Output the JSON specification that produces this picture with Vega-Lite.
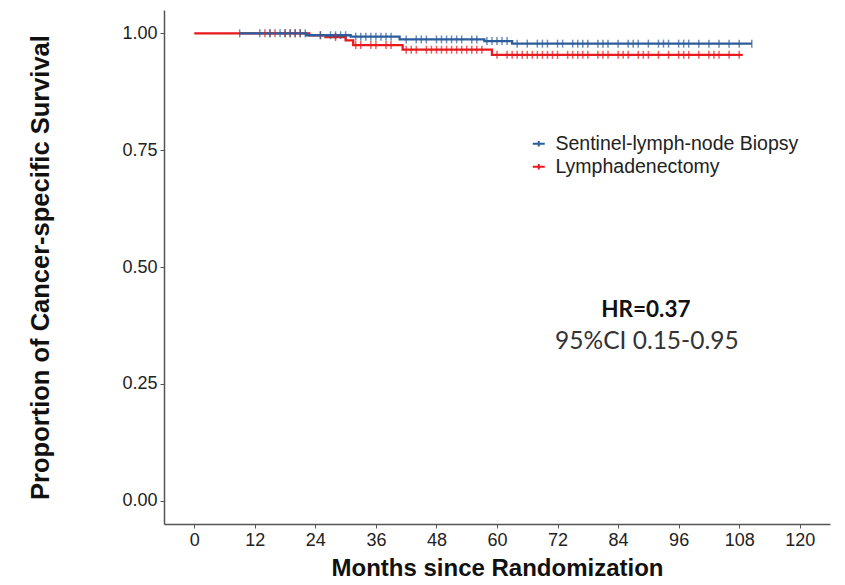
{
  "$schema": "https://vega.github.io/schema/vega-lite/v6.json",
  "width": 666,
  "height": 514,
  "autosize": {"type": "none"},
  "padding": {"left": 164, "top": 10, "right": 15, "bottom": 61},
  "background": "white",
  "config": {
    "font": "Liberation Sans",
    "view": {"stroke": null},
    "axis": {
      "grid": false,
      "domainColor": "#555555",
      "domainWidth": 1.5,
      "tickColor": "#555555",
      "tickSize": 4,
      "tickWidth": 1,
      "labelFontSize": 18,
      "labelColor": "#222222",
      "labelPadding": 3,
      "titleFontSize": 24,
      "titleFontWeight": "bold",
      "titleColor": "#111111"
    }
  },
  "datasets": {
    "curves": [
      {"group": "Sentinel-lymph-node Biopsy", "month": 9, "surv": 1.0},
      {"group": "Sentinel-lymph-node Biopsy", "month": 22.2, "surv": 0.996},
      {"group": "Sentinel-lymph-node Biopsy", "month": 31, "surv": 0.993},
      {"group": "Sentinel-lymph-node Biopsy", "month": 40.7, "surv": 0.987},
      {"group": "Sentinel-lymph-node Biopsy", "month": 57.5, "surv": 0.9835},
      {"group": "Sentinel-lymph-node Biopsy", "month": 63, "surv": 0.978},
      {"group": "Sentinel-lymph-node Biopsy", "month": 110.5, "surv": 0.978},
      {"group": "Lymphadenectomy", "month": 0, "surv": 1.0},
      {"group": "Lymphadenectomy", "month": 22.8, "surv": 0.996},
      {"group": "Lymphadenectomy", "month": 26, "surv": 0.992},
      {"group": "Lymphadenectomy", "month": 30, "surv": 0.985},
      {"group": "Lymphadenectomy", "month": 31.5, "surv": 0.975},
      {"group": "Lymphadenectomy", "month": 41.3, "surv": 0.965},
      {"group": "Lymphadenectomy", "month": 59, "surv": 0.954},
      {"group": "Lymphadenectomy", "month": 108.7, "surv": 0.954}
    ],
    "censor": [
      {"group": "Sentinel-lymph-node Biopsy", "month": 9, "surv": 1.0},
      {"group": "Sentinel-lymph-node Biopsy", "month": 13, "surv": 1.0},
      {"group": "Sentinel-lymph-node Biopsy", "month": 15, "surv": 1.0},
      {"group": "Sentinel-lymph-node Biopsy", "month": 17, "surv": 1.0},
      {"group": "Sentinel-lymph-node Biopsy", "month": 18, "surv": 1.0},
      {"group": "Sentinel-lymph-node Biopsy", "month": 19, "surv": 1.0},
      {"group": "Sentinel-lymph-node Biopsy", "month": 20, "surv": 1.0},
      {"group": "Sentinel-lymph-node Biopsy", "month": 21, "surv": 1.0},
      {"group": "Sentinel-lymph-node Biopsy", "month": 22, "surv": 1.0},
      {"group": "Sentinel-lymph-node Biopsy", "month": 25, "surv": 0.996},
      {"group": "Sentinel-lymph-node Biopsy", "month": 27, "surv": 0.996},
      {"group": "Sentinel-lymph-node Biopsy", "month": 28, "surv": 0.996},
      {"group": "Sentinel-lymph-node Biopsy", "month": 29, "surv": 0.996},
      {"group": "Sentinel-lymph-node Biopsy", "month": 30, "surv": 0.996},
      {"group": "Sentinel-lymph-node Biopsy", "month": 32, "surv": 0.993},
      {"group": "Sentinel-lymph-node Biopsy", "month": 33, "surv": 0.993},
      {"group": "Sentinel-lymph-node Biopsy", "month": 34, "surv": 0.993},
      {"group": "Sentinel-lymph-node Biopsy", "month": 35, "surv": 0.993},
      {"group": "Sentinel-lymph-node Biopsy", "month": 36, "surv": 0.993},
      {"group": "Sentinel-lymph-node Biopsy", "month": 37, "surv": 0.993},
      {"group": "Sentinel-lymph-node Biopsy", "month": 38, "surv": 0.993},
      {"group": "Sentinel-lymph-node Biopsy", "month": 39, "surv": 0.993},
      {"group": "Sentinel-lymph-node Biopsy", "month": 42, "surv": 0.987},
      {"group": "Sentinel-lymph-node Biopsy", "month": 44, "surv": 0.987},
      {"group": "Sentinel-lymph-node Biopsy", "month": 45, "surv": 0.987},
      {"group": "Sentinel-lymph-node Biopsy", "month": 46, "surv": 0.987},
      {"group": "Sentinel-lymph-node Biopsy", "month": 48, "surv": 0.987},
      {"group": "Sentinel-lymph-node Biopsy", "month": 49, "surv": 0.987},
      {"group": "Sentinel-lymph-node Biopsy", "month": 50, "surv": 0.987},
      {"group": "Sentinel-lymph-node Biopsy", "month": 51, "surv": 0.987},
      {"group": "Sentinel-lymph-node Biopsy", "month": 52, "surv": 0.987},
      {"group": "Sentinel-lymph-node Biopsy", "month": 53, "surv": 0.987},
      {"group": "Sentinel-lymph-node Biopsy", "month": 55, "surv": 0.987},
      {"group": "Sentinel-lymph-node Biopsy", "month": 56, "surv": 0.987},
      {"group": "Sentinel-lymph-node Biopsy", "month": 58, "surv": 0.9835},
      {"group": "Sentinel-lymph-node Biopsy", "month": 59, "surv": 0.9835},
      {"group": "Sentinel-lymph-node Biopsy", "month": 60, "surv": 0.9835},
      {"group": "Sentinel-lymph-node Biopsy", "month": 61, "surv": 0.9835},
      {"group": "Sentinel-lymph-node Biopsy", "month": 62, "surv": 0.9835},
      {"group": "Sentinel-lymph-node Biopsy", "month": 64, "surv": 0.978},
      {"group": "Sentinel-lymph-node Biopsy", "month": 66, "surv": 0.978},
      {"group": "Sentinel-lymph-node Biopsy", "month": 68, "surv": 0.978},
      {"group": "Sentinel-lymph-node Biopsy", "month": 69, "surv": 0.978},
      {"group": "Sentinel-lymph-node Biopsy", "month": 70, "surv": 0.978},
      {"group": "Sentinel-lymph-node Biopsy", "month": 72, "surv": 0.978},
      {"group": "Sentinel-lymph-node Biopsy", "month": 73, "surv": 0.978},
      {"group": "Sentinel-lymph-node Biopsy", "month": 75, "surv": 0.978},
      {"group": "Sentinel-lymph-node Biopsy", "month": 76, "surv": 0.978},
      {"group": "Sentinel-lymph-node Biopsy", "month": 77, "surv": 0.978},
      {"group": "Sentinel-lymph-node Biopsy", "month": 78, "surv": 0.978},
      {"group": "Sentinel-lymph-node Biopsy", "month": 80, "surv": 0.978},
      {"group": "Sentinel-lymph-node Biopsy", "month": 81, "surv": 0.978},
      {"group": "Sentinel-lymph-node Biopsy", "month": 82, "surv": 0.978},
      {"group": "Sentinel-lymph-node Biopsy", "month": 84, "surv": 0.978},
      {"group": "Sentinel-lymph-node Biopsy", "month": 86, "surv": 0.978},
      {"group": "Sentinel-lymph-node Biopsy", "month": 87, "surv": 0.978},
      {"group": "Sentinel-lymph-node Biopsy", "month": 88, "surv": 0.978},
      {"group": "Sentinel-lymph-node Biopsy", "month": 90, "surv": 0.978},
      {"group": "Sentinel-lymph-node Biopsy", "month": 92, "surv": 0.978},
      {"group": "Sentinel-lymph-node Biopsy", "month": 93, "surv": 0.978},
      {"group": "Sentinel-lymph-node Biopsy", "month": 94, "surv": 0.978},
      {"group": "Sentinel-lymph-node Biopsy", "month": 96, "surv": 0.978},
      {"group": "Sentinel-lymph-node Biopsy", "month": 97, "surv": 0.978},
      {"group": "Sentinel-lymph-node Biopsy", "month": 98, "surv": 0.978},
      {"group": "Sentinel-lymph-node Biopsy", "month": 100, "surv": 0.978},
      {"group": "Sentinel-lymph-node Biopsy", "month": 102, "surv": 0.978},
      {"group": "Sentinel-lymph-node Biopsy", "month": 104, "surv": 0.978},
      {"group": "Sentinel-lymph-node Biopsy", "month": 106, "surv": 0.978},
      {"group": "Sentinel-lymph-node Biopsy", "month": 108, "surv": 0.978},
      {"group": "Sentinel-lymph-node Biopsy", "month": 110.5, "surv": 0.978},
      {"group": "Lymphadenectomy", "month": 14, "surv": 1.0},
      {"group": "Lymphadenectomy", "month": 15, "surv": 1.0},
      {"group": "Lymphadenectomy", "month": 16, "surv": 1.0},
      {"group": "Lymphadenectomy", "month": 18, "surv": 1.0},
      {"group": "Lymphadenectomy", "month": 19, "surv": 1.0},
      {"group": "Lymphadenectomy", "month": 20, "surv": 1.0},
      {"group": "Lymphadenectomy", "month": 21, "surv": 1.0},
      {"group": "Lymphadenectomy", "month": 25, "surv": 0.996},
      {"group": "Lymphadenectomy", "month": 28, "surv": 0.992},
      {"group": "Lymphadenectomy", "month": 32, "surv": 0.975},
      {"group": "Lymphadenectomy", "month": 33, "surv": 0.975},
      {"group": "Lymphadenectomy", "month": 35, "surv": 0.975},
      {"group": "Lymphadenectomy", "month": 36, "surv": 0.975},
      {"group": "Lymphadenectomy", "month": 38, "surv": 0.975},
      {"group": "Lymphadenectomy", "month": 39, "surv": 0.975},
      {"group": "Lymphadenectomy", "month": 42, "surv": 0.965},
      {"group": "Lymphadenectomy", "month": 43, "surv": 0.965},
      {"group": "Lymphadenectomy", "month": 44, "surv": 0.965},
      {"group": "Lymphadenectomy", "month": 46, "surv": 0.965},
      {"group": "Lymphadenectomy", "month": 47, "surv": 0.965},
      {"group": "Lymphadenectomy", "month": 48, "surv": 0.965},
      {"group": "Lymphadenectomy", "month": 49, "surv": 0.965},
      {"group": "Lymphadenectomy", "month": 50, "surv": 0.965},
      {"group": "Lymphadenectomy", "month": 51, "surv": 0.965},
      {"group": "Lymphadenectomy", "month": 52, "surv": 0.965},
      {"group": "Lymphadenectomy", "month": 53, "surv": 0.965},
      {"group": "Lymphadenectomy", "month": 54, "surv": 0.965},
      {"group": "Lymphadenectomy", "month": 55, "surv": 0.965},
      {"group": "Lymphadenectomy", "month": 56, "surv": 0.965},
      {"group": "Lymphadenectomy", "month": 57, "surv": 0.965},
      {"group": "Lymphadenectomy", "month": 60, "surv": 0.954},
      {"group": "Lymphadenectomy", "month": 62, "surv": 0.954},
      {"group": "Lymphadenectomy", "month": 63, "surv": 0.954},
      {"group": "Lymphadenectomy", "month": 64, "surv": 0.954},
      {"group": "Lymphadenectomy", "month": 65, "surv": 0.954},
      {"group": "Lymphadenectomy", "month": 66, "surv": 0.954},
      {"group": "Lymphadenectomy", "month": 67, "surv": 0.954},
      {"group": "Lymphadenectomy", "month": 68, "surv": 0.954},
      {"group": "Lymphadenectomy", "month": 69, "surv": 0.954},
      {"group": "Lymphadenectomy", "month": 70, "surv": 0.954},
      {"group": "Lymphadenectomy", "month": 71, "surv": 0.954},
      {"group": "Lymphadenectomy", "month": 72, "surv": 0.954},
      {"group": "Lymphadenectomy", "month": 74, "surv": 0.954},
      {"group": "Lymphadenectomy", "month": 75, "surv": 0.954},
      {"group": "Lymphadenectomy", "month": 76, "surv": 0.954},
      {"group": "Lymphadenectomy", "month": 77, "surv": 0.954},
      {"group": "Lymphadenectomy", "month": 78, "surv": 0.954},
      {"group": "Lymphadenectomy", "month": 80, "surv": 0.954},
      {"group": "Lymphadenectomy", "month": 81, "surv": 0.954},
      {"group": "Lymphadenectomy", "month": 82, "surv": 0.954},
      {"group": "Lymphadenectomy", "month": 84, "surv": 0.954},
      {"group": "Lymphadenectomy", "month": 85, "surv": 0.954},
      {"group": "Lymphadenectomy", "month": 86, "surv": 0.954},
      {"group": "Lymphadenectomy", "month": 88, "surv": 0.954},
      {"group": "Lymphadenectomy", "month": 89, "surv": 0.954},
      {"group": "Lymphadenectomy", "month": 90, "surv": 0.954},
      {"group": "Lymphadenectomy", "month": 92, "surv": 0.954},
      {"group": "Lymphadenectomy", "month": 94, "surv": 0.954},
      {"group": "Lymphadenectomy", "month": 96, "surv": 0.954},
      {"group": "Lymphadenectomy", "month": 97, "surv": 0.954},
      {"group": "Lymphadenectomy", "month": 98, "surv": 0.954},
      {"group": "Lymphadenectomy", "month": 100, "surv": 0.954},
      {"group": "Lymphadenectomy", "month": 102, "surv": 0.954},
      {"group": "Lymphadenectomy", "month": 103, "surv": 0.954},
      {"group": "Lymphadenectomy", "month": 104, "surv": 0.954},
      {"group": "Lymphadenectomy", "month": 106, "surv": 0.954},
      {"group": "Lymphadenectomy", "month": 108, "surv": 0.954}
    ],
    "notes": [
      {"label": "HR=0.37", "month": 89.5, "surv": 0.407, "kind": "hr"},
      {"label": "95%CI 0.15-0.95", "month": 89.7, "surv": 0.34, "kind": "ci"}
    ]
  },
  "encoding": {
    "x": {
      "type": "quantitative",
      "scale": {"domain": [-6, 126], "nice": false, "zero": false},
      "axis": {
        "values": [0, 12, 24, 36, 48, 60, 72, 84, 96, 108, 120],
        "title": "Months since Randomization",
        "titlePadding": 7
      }
    },
    "y": {
      "type": "quantitative",
      "scale": {"domain": [-0.05, 1.05], "nice": false, "zero": false},
      "axis": {
        "values": [0, 0.25, 0.5, 0.75, 1],
        "format": ".2f",
        "title": "Proportion of Cancer-specific Survival",
        "titleFontSize": 25.5,
        "titlePadding": 68
      }
    }
  },
  "layer": [
    {
      "data": {"name": "curves"},
      "transform": [{"filter": "datum.group === 'Lymphadenectomy'"}],
      "mark": {"type": "line", "interpolate": "step-after", "strokeWidth": 2.3},
      "encoding": {
        "x": {"field": "month", "type": "quantitative"},
        "y": {"field": "surv", "type": "quantitative"},
        "color": {
          "datum": "Lymphadenectomy",
          "type": "nominal",
          "scale": {
            "domain": ["Sentinel-lymph-node Biopsy", "Lymphadenectomy"],
            "range": ["#2b5c9c", "#e8191d"]
          },
          "legend": {
            "title": null,
            "orient": "none",
            "legendX": 365,
            "legendY": 124,
            "padding": 0,
            "symbolType": "M-1,0H1M0,-0.45V0.45",
            "symbolSize": 144,
            "symbolStrokeWidth": 2,
            "labelFontSize": 19.5,
            "labelLimit": 400,
            "labelColor": "#222222",
            "labelOffset": 7,
            "rowPadding": 2
          }
        }
      }
    },
    {
      "data": {"name": "curves"},
      "transform": [{"filter": "datum.group === 'Sentinel-lymph-node Biopsy'"}],
      "mark": {"type": "line", "interpolate": "step-after", "strokeWidth": 2.3},
      "encoding": {
        "x": {"field": "month", "type": "quantitative"},
        "y": {"field": "surv", "type": "quantitative"},
        "color": {"datum": "Sentinel-lymph-node Biopsy", "type": "nominal"}
      }
    },
    {
      "data": {"name": "censor"},
      "transform": [{"filter": "datum.group === 'Lymphadenectomy'"}],
      "mark": {"type": "tick", "orient": "vertical", "size": 8, "thickness": 1.5, "color": "#e8191d"},
      "encoding": {
        "x": {"field": "month", "type": "quantitative"},
        "y": {"field": "surv", "type": "quantitative"}
      }
    },
    {
      "data": {"name": "censor"},
      "transform": [{"filter": "datum.group === 'Sentinel-lymph-node Biopsy'"}],
      "mark": {"type": "tick", "orient": "vertical", "size": 8, "thickness": 1.5, "color": "#2b5c9c"},
      "encoding": {
        "x": {"field": "month", "type": "quantitative"},
        "y": {"field": "surv", "type": "quantitative"}
      }
    },
    {
      "data": {"name": "notes"},
      "transform": [{"filter": "datum.kind === 'hr'"}],
      "mark": {"type": "text", "font": "Lato", "fontSize": 22.5, "fontWeight": "bold", "color": "#111111", "baseline": "middle", "align": "center"},
      "encoding": {
        "x": {"field": "month", "type": "quantitative"},
        "y": {"field": "surv", "type": "quantitative"},
        "text": {"field": "label"}
      }
    },
    {
      "data": {"name": "notes"},
      "transform": [{"filter": "datum.kind === 'ci'"}],
      "mark": {"type": "text", "font": "Lato", "fontSize": 24.5, "color": "#333333", "baseline": "middle", "align": "center"},
      "encoding": {
        "x": {"field": "month", "type": "quantitative"},
        "y": {"field": "surv", "type": "quantitative"},
        "text": {"field": "label"}
      }
    }
  ]
}
